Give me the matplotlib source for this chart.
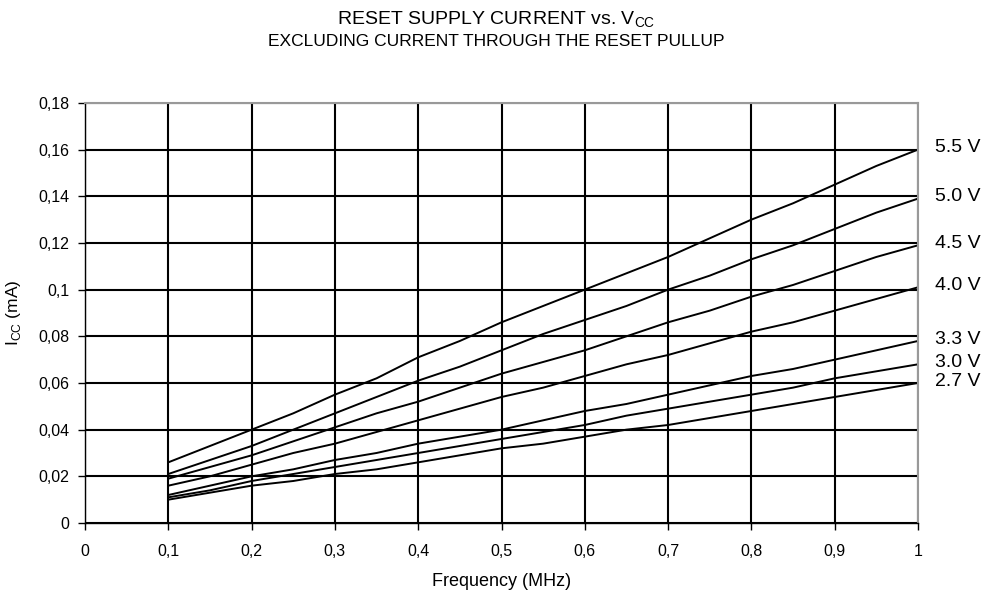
import matplotlib
matplotlib.use('Agg')
import matplotlib.pyplot as plt

plt.rcParams['font.family'] = ['Liberation Sans', 'DejaVu Sans']

# frequency (MHz)
freq = [0.1, 0.15, 0.2, 0.25, 0.3, 0.35, 0.4, 0.45, 0.5, 0.55,
        0.6, 0.65, 0.7, 0.75, 0.8, 0.85, 0.9, 0.95, 1.0]

# supply current (mA) per Vcc
icc_55 = [0.026, 0.033, 0.040, 0.047, 0.055, 0.062, 0.071, 0.078, 0.086, 0.093,
          0.100, 0.107, 0.114, 0.122, 0.130, 0.137, 0.145, 0.153, 0.160]
icc_50 = [0.021, 0.027, 0.033, 0.040, 0.047, 0.054, 0.061, 0.067, 0.074, 0.081,
          0.087, 0.093, 0.100, 0.106, 0.113, 0.119, 0.126, 0.133, 0.139]
icc_45 = [0.019, 0.024, 0.029, 0.035, 0.041, 0.047, 0.052, 0.058, 0.064, 0.069,
          0.074, 0.080, 0.086, 0.091, 0.097, 0.102, 0.108, 0.114, 0.119]
icc_40 = [0.016, 0.020, 0.025, 0.030, 0.034, 0.039, 0.044, 0.049, 0.054, 0.058,
          0.063, 0.068, 0.072, 0.077, 0.082, 0.086, 0.091, 0.096, 0.101]
icc_33 = [0.012, 0.016, 0.020, 0.023, 0.027, 0.030, 0.034, 0.037, 0.040, 0.044,
          0.048, 0.051, 0.055, 0.059, 0.063, 0.066, 0.070, 0.074, 0.078]
icc_30 = [0.011, 0.014, 0.018, 0.021, 0.024, 0.027, 0.030, 0.033, 0.036, 0.039,
          0.042, 0.046, 0.049, 0.052, 0.055, 0.058, 0.062, 0.065, 0.068]
icc_27 = [0.010, 0.013, 0.016, 0.018, 0.021, 0.023, 0.026, 0.029, 0.032, 0.034,
          0.037, 0.040, 0.042, 0.045, 0.048, 0.051, 0.054, 0.057, 0.060]

series = [('5.5 V', icc_55), ('5.0 V', icc_50), ('4.5 V', icc_45), ('4.0 V', icc_40),
          ('3.3 V', icc_33), ('3.0 V', icc_30), ('2.7 V', icc_27)]

x_ticks = [0, 0.1, 0.2, 0.3, 0.4, 0.5, 0.6, 0.7, 0.8, 0.9, 1]
x_labels = ['0', '0,1', '0,2', '0,3', '0,4', '0,5', '0,6', '0,7', '0,8', '0,9', '1']
y_ticks = [0, 0.02, 0.04, 0.06, 0.08, 0.1, 0.12, 0.14, 0.16, 0.18]
y_labels = ['0', '0,02', '0,04', '0,06', '0,08', '0,1', '0,12', '0,14', '0,16', '0,18']

fig = plt.figure(figsize=(9.92, 5.95), dpi=100)
ax = fig.add_axes([0.0857, 0.121, 0.8397, 0.706])

for name, vals in series:
    ax.plot(freq, vals, color='black', linewidth=1.4)
    ax.text(1.02, vals[-1] + 0.0008, name, fontsize=14, va='center', ha='left', clip_on=False)

ax.set_xlim(0, 1)
ax.set_ylim(0, 0.18)
ax.set_xticks(x_ticks)
ax.set_xticklabels(x_labels, fontsize=11.5)
ax.set_yticks(y_ticks)
ax.set_yticklabels(y_labels, fontsize=11.5)
ax.grid(True, color='black', linewidth=1.5)
ax.tick_params(axis='x', direction='out', length=5, width=1, color='black', pad=10)
ax.tick_params(axis='y', direction='out', length=5, width=1, color='black', pad=6)

for s in ['left', 'bottom']:
    ax.spines[s].set_color('black')
    ax.spines[s].set_linewidth(1.0)
for s in ['top', 'right']:
    ax.spines[s].set_color('#999999')
    ax.spines[s].set_linewidth(1.5)

ax.set_xlabel('Frequency (MHz)', fontsize=13)
ax.xaxis.set_label_coords(0.5, -0.118)
ax.set_ylabel('I$_{\\mathregular{CC}}$ (mA)', fontsize=12.5)
ax.yaxis.set_label_coords(-0.075, 0.5)

fig.text(0.5, 0.966, 'RESET SUPPLY CURRENT vs. V$_{\\mathregular{CC}}$', ha='center', va='center', fontsize=14)
fig.text(0.5, 0.931, 'EXCLUDING CURRENT THROUGH THE RESET PULLUP', ha='center', va='center', fontsize=12.5)

fig.savefig('out.png', dpi=100)
